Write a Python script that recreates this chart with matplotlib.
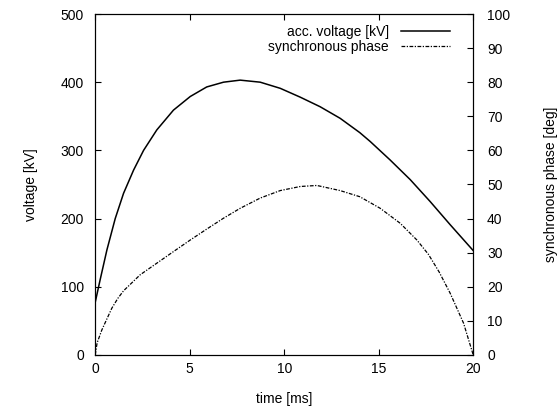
import numpy as np
import matplotlib.pyplot as plt

plt.rcParams['font.family'] = ['Liberation Sans', 'DejaVu Sans']
plt.rcParams['font.size'] = 10

# values
t_v = [0, 0.26, 0.62, 1.06, 1.5, 2.03, 2.56, 3.26, 4.14, 5.03, 5.9, 6.79,
       7.67, 8.73, 9.79, 10.85, 11.9, 12.96, 14.0, 14.55, 15.6, 16.67, 17.72,
       18.78, 20.0]
voltage = [77, 110, 154, 200, 237, 271, 300, 330, 359, 379, 393, 400,
           403, 400, 391, 378, 364, 347, 326, 313, 286, 257, 225,
           191, 153]

t_p = [0, 0.1, 0.35, 0.88, 1.2, 1.5, 2.38, 3.26, 4.14, 5.03, 5.9, 6.79,
       7.67, 8.73, 9.79, 10.85, 11.73, 12.96, 14.0, 15.08, 16.14, 17.02,
       17.63, 18.2, 18.78, 19.49, 20.0]
phase = [0, 3.5, 7.3, 13.7, 16.6, 18.8, 23.5, 26.9, 30.3, 33.7, 36.9, 40.1,
         43, 46, 48.2, 49.4, 49.7, 48.2, 46.4, 43, 38.6, 33.7,
         29.5, 24.3, 18.1, 9.3, 0]

fig = plt.figure(figsize=(5.6, 4.18), dpi=100)
ax = fig.add_axes([0.17, 0.151, 0.675, 0.8155])
ax2 = ax.twinx()

l1, = ax.plot(t_v, voltage, color='black', lw=1.1, label='acc. voltage [kV]')
l2, = ax2.plot(t_p, phase, color='black', lw=0.9, ls=(0, (3, 1.2, 1, 1.2)),
               label='synchronous phase')

ax.set_xlim(0, 20)
ax.set_ylim(0, 500)
ax2.set_ylim(0, 100)
ax.set_xticks([0, 5, 10, 15, 20])
ax.set_yticks(range(0, 501, 100))
ax2.set_yticks(range(0, 101, 10))

ax.tick_params(direction='in', length=4.2, width=0.8, top=True, right=False, pad=5)
ax.tick_params(axis='y', pad=8)
ax2.tick_params(direction='in', length=4.2, width=0.8, pad=10)

ax.set_xlabel('time [ms]', labelpad=12)
ax.set_ylabel('voltage [kV]', labelpad=16)
ax2.set_ylabel('synchronous phase [deg]', labelpad=24)

ax2.legend([l1, l2], [l1.get_label(), l2.get_label()], loc='upper right',
           bbox_to_anchor=(0.953, 0.983), frameon=False, markerfirst=False,
           handlelength=3.5, borderaxespad=0, labelspacing=0.03,
           handletextpad=0.9)

fig.savefig('out.png')
